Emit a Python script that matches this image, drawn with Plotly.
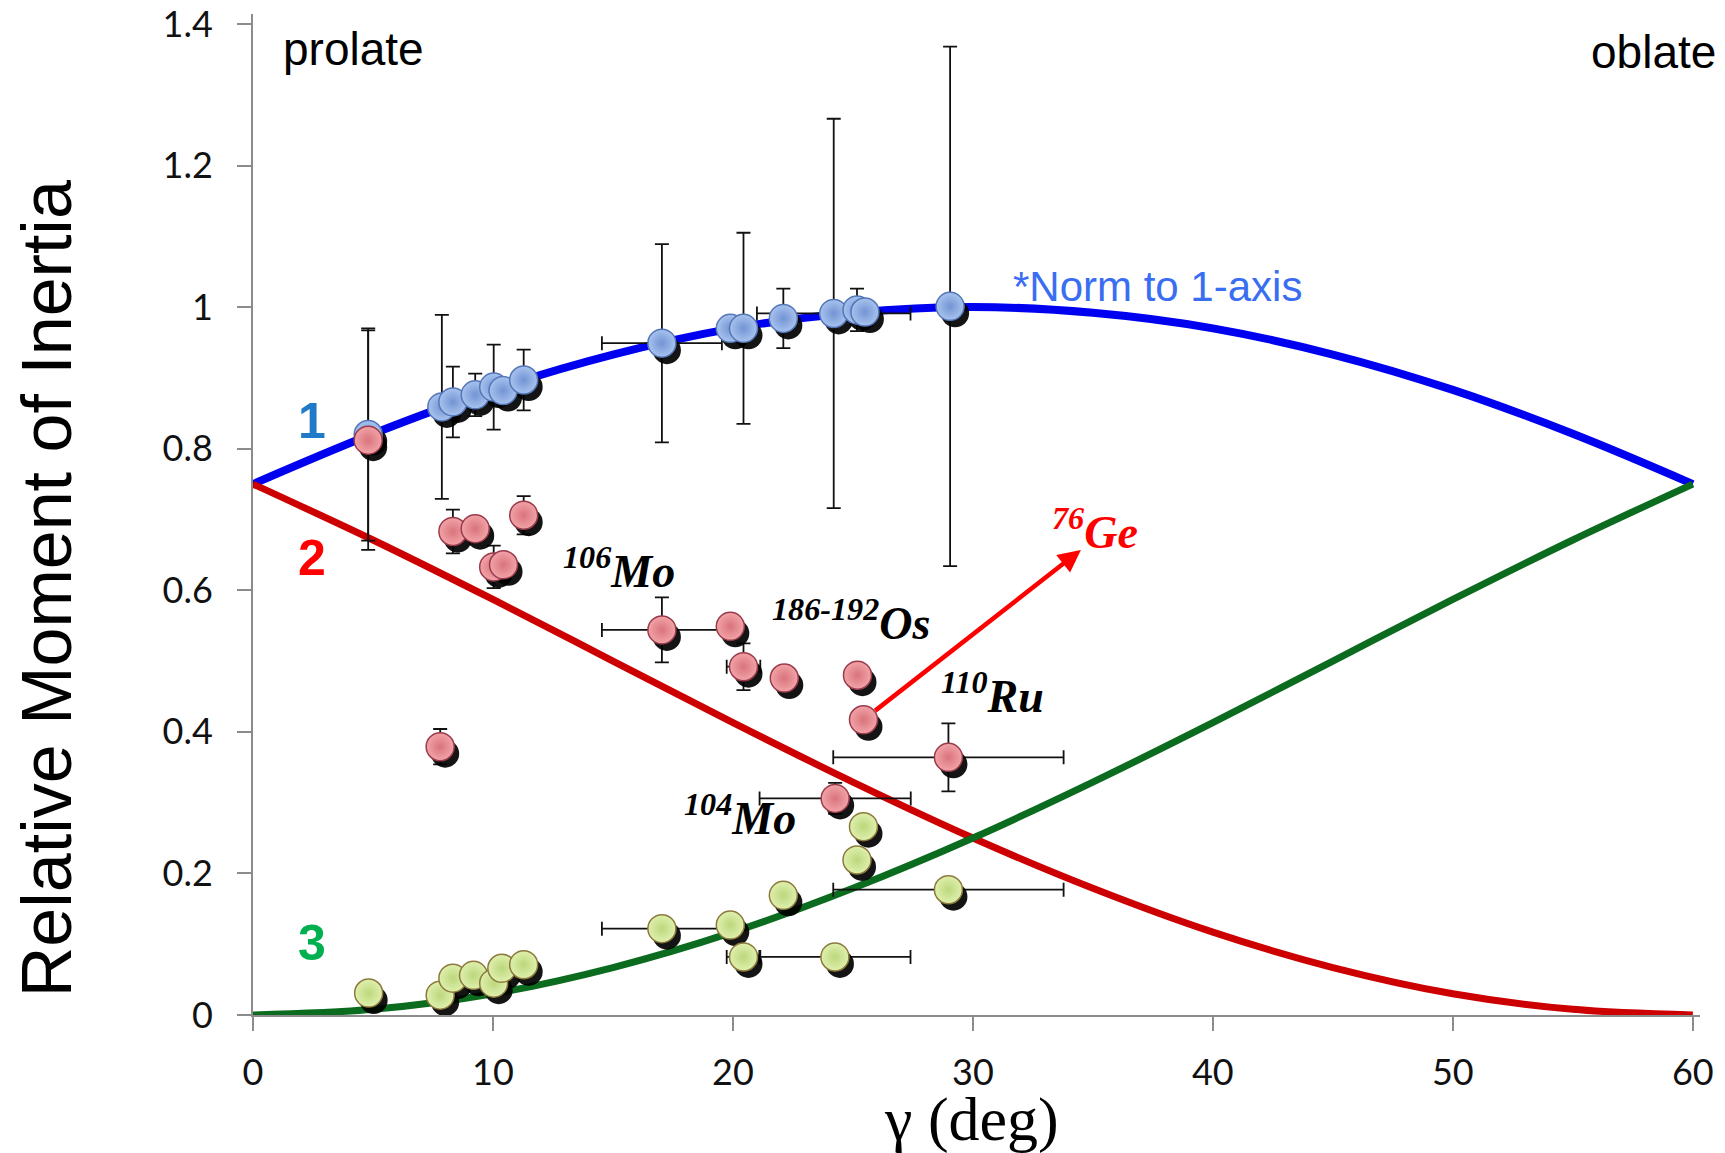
import plotly.graph_objects as go

# Rigid triaxial rotor: relative moments of inertia of the three axes, tabulated every 5 deg
gamma_deg = [0, 5, 10, 15, 20, 25, 30, 35, 40, 45, 50, 55, 60]
axis1_curve = [0.750, 0.821, 0.883, 0.933, 0.970, 0.992, 1.000, 0.992, 0.970, 0.933, 0.883, 0.821, 0.750]
axis2_curve = [0.750, 0.671, 0.587, 0.500, 0.413, 0.329, 0.250, 0.179, 0.117, 0.067, 0.030, 0.008, 0.000]
axis3_curve = [0.000, 0.008, 0.030, 0.067, 0.117, 0.179, 0.250, 0.329, 0.413, 0.500, 0.587, 0.671, 0.750]

# Measured moments, axis 1
ax1_gamma = [4.8, 7.87, 8.33, 9.26, 10.03, 10.42, 11.28, 17.04, 19.89, 20.44, 22.1, 24.2, 25.17, 25.5, 29.05]
ax1_val = [0.820, 0.859, 0.866, 0.876, 0.887, 0.882, 0.897, 0.949, 0.970, 0.970, 0.984, 0.991, 0.996, 0.993, 1.001]
ax1_err = [0.150, 0.130, 0.050, 0.030, 0.060, 0, 0.043, 0.140, 0, 0.135, 0.042, 0.275, 0.030, 0, 0.367]
ax1_gerr = [0, 0, 0, 0, 0, 0, 0, 2.5, 0, 0, 0, 3.2, 0, 0, 0]

# Measured moments, axis 2
ax2_gamma = [4.8, 7.8, 8.33, 9.26, 10.03, 10.44, 11.28, 17.04, 19.89, 20.44, 22.14, 24.26, 25.19, 25.44, 28.98]
ax2_val = [0.812, 0.379, 0.683, 0.687, 0.633, 0.636, 0.706, 0.544, 0.549, 0.492, 0.476, 0.306, 0.480, 0.417, 0.364]
ax2_err = [0.155, 0.025, 0.031, 0, 0.030, 0, 0.027, 0.046, 0, 0.033, 0, 0.022, 0, 0, 0.048]
ax2_gerr = [0, 0, 0, 0, 0, 0, 0, 2.5, 0, 0.7, 0, 3.15, 0, 0, 4.8]

# Measured moments, axis 3
ax3_gamma = [4.82, 7.8, 8.33, 9.19, 10.03, 10.37, 11.28, 17.04, 19.89, 20.44, 22.1, 24.25, 25.17, 25.44, 28.98]
ax3_val = [0.031, 0.028, 0.052, 0.056, 0.045, 0.066, 0.071, 0.122, 0.127, 0.082, 0.169, 0.082, 0.219, 0.266, 0.177]
ax3_gerr = [0, 0, 0, 0, 0, 0, 0, 2.5, 0, 0.7, 0, 3.15, 0, 0, 4.8]

x_ticks = [0, 10, 20, 30, 40, 50, 60]
y_ticks = [0, 0.2, 0.4, 0.6, 0.8, 1.0, 1.2, 1.4]
y_ticktext = ["0", "0.2", "0.4", "0.6", "0.8", "1", "1.2", "1.4"]

X_RANGE = [0, 60.3]
Y_RANGE = [0, 1.414]
PLOT_W, PLOT_H = 1447, 1001
SHADOW_DX, SHADOW_DY = 5, 7  # drop-shadow offset in pixels
MARKER_SIZE = 28

fig = go.Figure()

# theory curves
for vals, col, w in [(axis1_curve, "#0000f0", 8), (axis2_curve, "#cc0000", 7), (axis3_curve, "#0b6b1e", 7)]:
    fig.add_trace(go.Scatter(x=gamma_deg, y=vals, mode="lines",
                             line=dict(color=col, width=w, shape="spline", smoothing=1.0),
                             hoverinfo="skip"))

def err_traces(xs, ys, yerr, xerr):
    iy = [i for i, e in enumerate(yerr) if e > 0]
    ix = [i for i, e in enumerate(xerr) if e > 0]
    out = []
    if iy:
        out.append(go.Scatter(x=[xs[i] for i in iy], y=[ys[i] for i in iy], mode="markers",
                              marker=dict(size=1, opacity=0),
                              error_y=dict(type="data", array=[yerr[i] for i in iy],
                                           color="#111111", thickness=1.8, width=7)))
    if ix:
        out.append(go.Scatter(x=[xs[i] for i in ix], y=[ys[i] for i in ix], mode="markers",
                              marker=dict(size=1, opacity=0),
                              error_x=dict(type="data", array=[xerr[i] for i in ix],
                                           color="#111111", thickness=1.8, width=7)))
    return out

for t in (err_traces(ax1_gamma, ax1_val, ax1_err, ax1_gerr)
          + err_traces(ax2_gamma, ax2_val, ax2_err, ax2_gerr)
          + err_traces(ax3_gamma, ax3_val, [0] * len(ax3_val), ax3_gerr)):
    fig.add_trace(t)

series = [
    (ax1_gamma, ax1_val, "#a8c3ee", "#7394d4", "#5577b8"),
    (ax2_gamma, ax2_val, "#f2a4a8", "#d9737c", "#9a3b4c"),
    (ax3_gamma, ax3_val, "#dff0ae", "#bcd77c", "#8c7a3c"),
]

# shadows on an offset overlay
for xs, ys, *_ in series:
    fig.add_trace(go.Scatter(x=xs, y=ys, mode="markers", xaxis="x2", yaxis="y2",
                             marker=dict(size=MARKER_SIZE, color="rgba(0,0,0,0.92)", line=dict(width=0)),
                             hoverinfo="skip"))

# data markers
for xs, ys, c_in, c_out, c_line in series:
    fig.add_trace(go.Scatter(x=xs, y=ys, mode="markers", xaxis="x3", yaxis="y3",
                             marker=dict(size=MARKER_SIZE, color=c_in,
                                         gradient=dict(type="radial", color=c_out),
                                         line=dict(color=c_line, width=1.5))))

dxu = SHADOW_DX * (X_RANGE[1] - X_RANGE[0]) / PLOT_W
dyu = SHADOW_DY * (Y_RANGE[1] - Y_RANGE[0]) / PLOT_H

tickfont = dict(family="Lato, Liberation Sans, sans-serif", size=36, color="#111111")
serif_bi = dict(family="Liberation Serif, Times New Roman, serif", size=46, color="#000000",
                weight="bold", style="italic")

annotations = [
    dict(x=4.2, y=1.365, text="prolate", showarrow=False, xanchor="center", yanchor="middle",
         font=dict(family="Liberation Sans, Arial", size=46, color="#000")),
    dict(x=58.35, y=1.36, text="oblate", showarrow=False, xanchor="center", yanchor="middle",
         font=dict(family="Liberation Sans, Arial", size=46, color="#000")),
    dict(x=37.7, y=1.029, text="*Norm to 1-axis", showarrow=False, xanchor="center", yanchor="middle",
         font=dict(family="Liberation Sans, Arial", size=42, color="#3a6ef2")),
    dict(x=2.44, y=0.839, text="<b>1</b>", showarrow=False,
         font=dict(family="Liberation Sans, Arial", size=50, color="#1f7ac8")),
    dict(x=2.44, y=0.646, text="<b>2</b>", showarrow=False,
         font=dict(family="Liberation Sans, Arial", size=50, color="#ff0000")),
    dict(x=2.44, y=0.102, text="<b>3</b>", showarrow=False,
         font=dict(family="Liberation Sans, Arial", size=50, color="#00b050")),
    dict(x=12.85, y=0.632, text="<sup>106</sup>Mo", showarrow=False, xanchor="left", yanchor="middle", font=serif_bi),
    dict(x=21.55, y=0.558, text="<sup>186-192</sup>Os", showarrow=False, xanchor="left", yanchor="middle", font=serif_bi),
    dict(x=28.57, y=0.455, text="<sup>110</sup>Ru", showarrow=False, xanchor="left", yanchor="middle", font=serif_bi),
    dict(x=17.87, y=0.283, text="<sup>104</sup>Mo", showarrow=False, xanchor="left", yanchor="middle", font=serif_bi),
    dict(x=33.2, y=0.686, text="<sup>76</sup>Ge", showarrow=False, xanchor="left", yanchor="middle",
         font=dict(family="Liberation Serif, Times New Roman, serif", size=46, color="#ff0000",
                   weight="bold", style="italic")),
    # arrow from the 110Ru axis-2 point
    dict(x=34.5, y=0.657, ax=ax2_gamma[13], ay=ax2_val[13], xref="x", yref="y", axref="x", ayref="y",
         text="", showarrow=True, arrowhead=2, arrowsize=1.0, arrowwidth=4.5, arrowcolor="#ff0000",
         standoff=0, startstandoff=13),
    dict(x=29.93, y=-0.148 / Y_RANGE[1], xref="x", yref="paper", text="γ (deg)", showarrow=False,
         xanchor="center", yanchor="middle",
         font=dict(family="Liberation Serif, Times New Roman, serif", size=62, color="#000")),
    dict(x=-0.1428, xref="paper", y=0.602, yref="y", text="Relative Moment of Inertia", textangle=-90,
         showarrow=False, xanchor="center", yanchor="middle",
         font=dict(family="Liberation Sans, Arial", size=70, color="#000")),
]
for a in annotations:
    a.setdefault("xref", "x")
    a.setdefault("yref", "y")

fig.update_layout(
    width=1725, height=1153,
    margin=dict(l=253, r=25, t=14, b=138, autoexpand=False),
    paper_bgcolor="white", plot_bgcolor="white",
    showlegend=False,
    xaxis=dict(range=X_RANGE, tickvals=x_ticks, showline=True, linecolor="#8c8c8c", linewidth=2,
               ticks="outside", ticklen=14, tickwidth=2, tickcolor="#8c8c8c", automargin=False,
               showgrid=False, zeroline=False, tickfont=tickfont, ticklabelstandoff=11),
    yaxis=dict(range=Y_RANGE, tickvals=y_ticks, ticktext=y_ticktext, showline=True, linecolor="#8c8c8c",
               linewidth=2, ticks="outside", ticklen=14, tickwidth=2, tickcolor="#8c8c8c", automargin=False,
               showgrid=False, zeroline=False, tickfont=tickfont, ticklabelstandoff=17),
    xaxis2=dict(range=[X_RANGE[0] - dxu, X_RANGE[1] - dxu], overlaying="x", visible=False),
    yaxis2=dict(range=[Y_RANGE[0] + dyu, Y_RANGE[1] + dyu], overlaying="y", visible=False),
    xaxis3=dict(range=X_RANGE, overlaying="x", visible=False),
    yaxis3=dict(range=Y_RANGE, overlaying="y", visible=False),
    annotations=annotations,
)

fig.write_html("out.html")
